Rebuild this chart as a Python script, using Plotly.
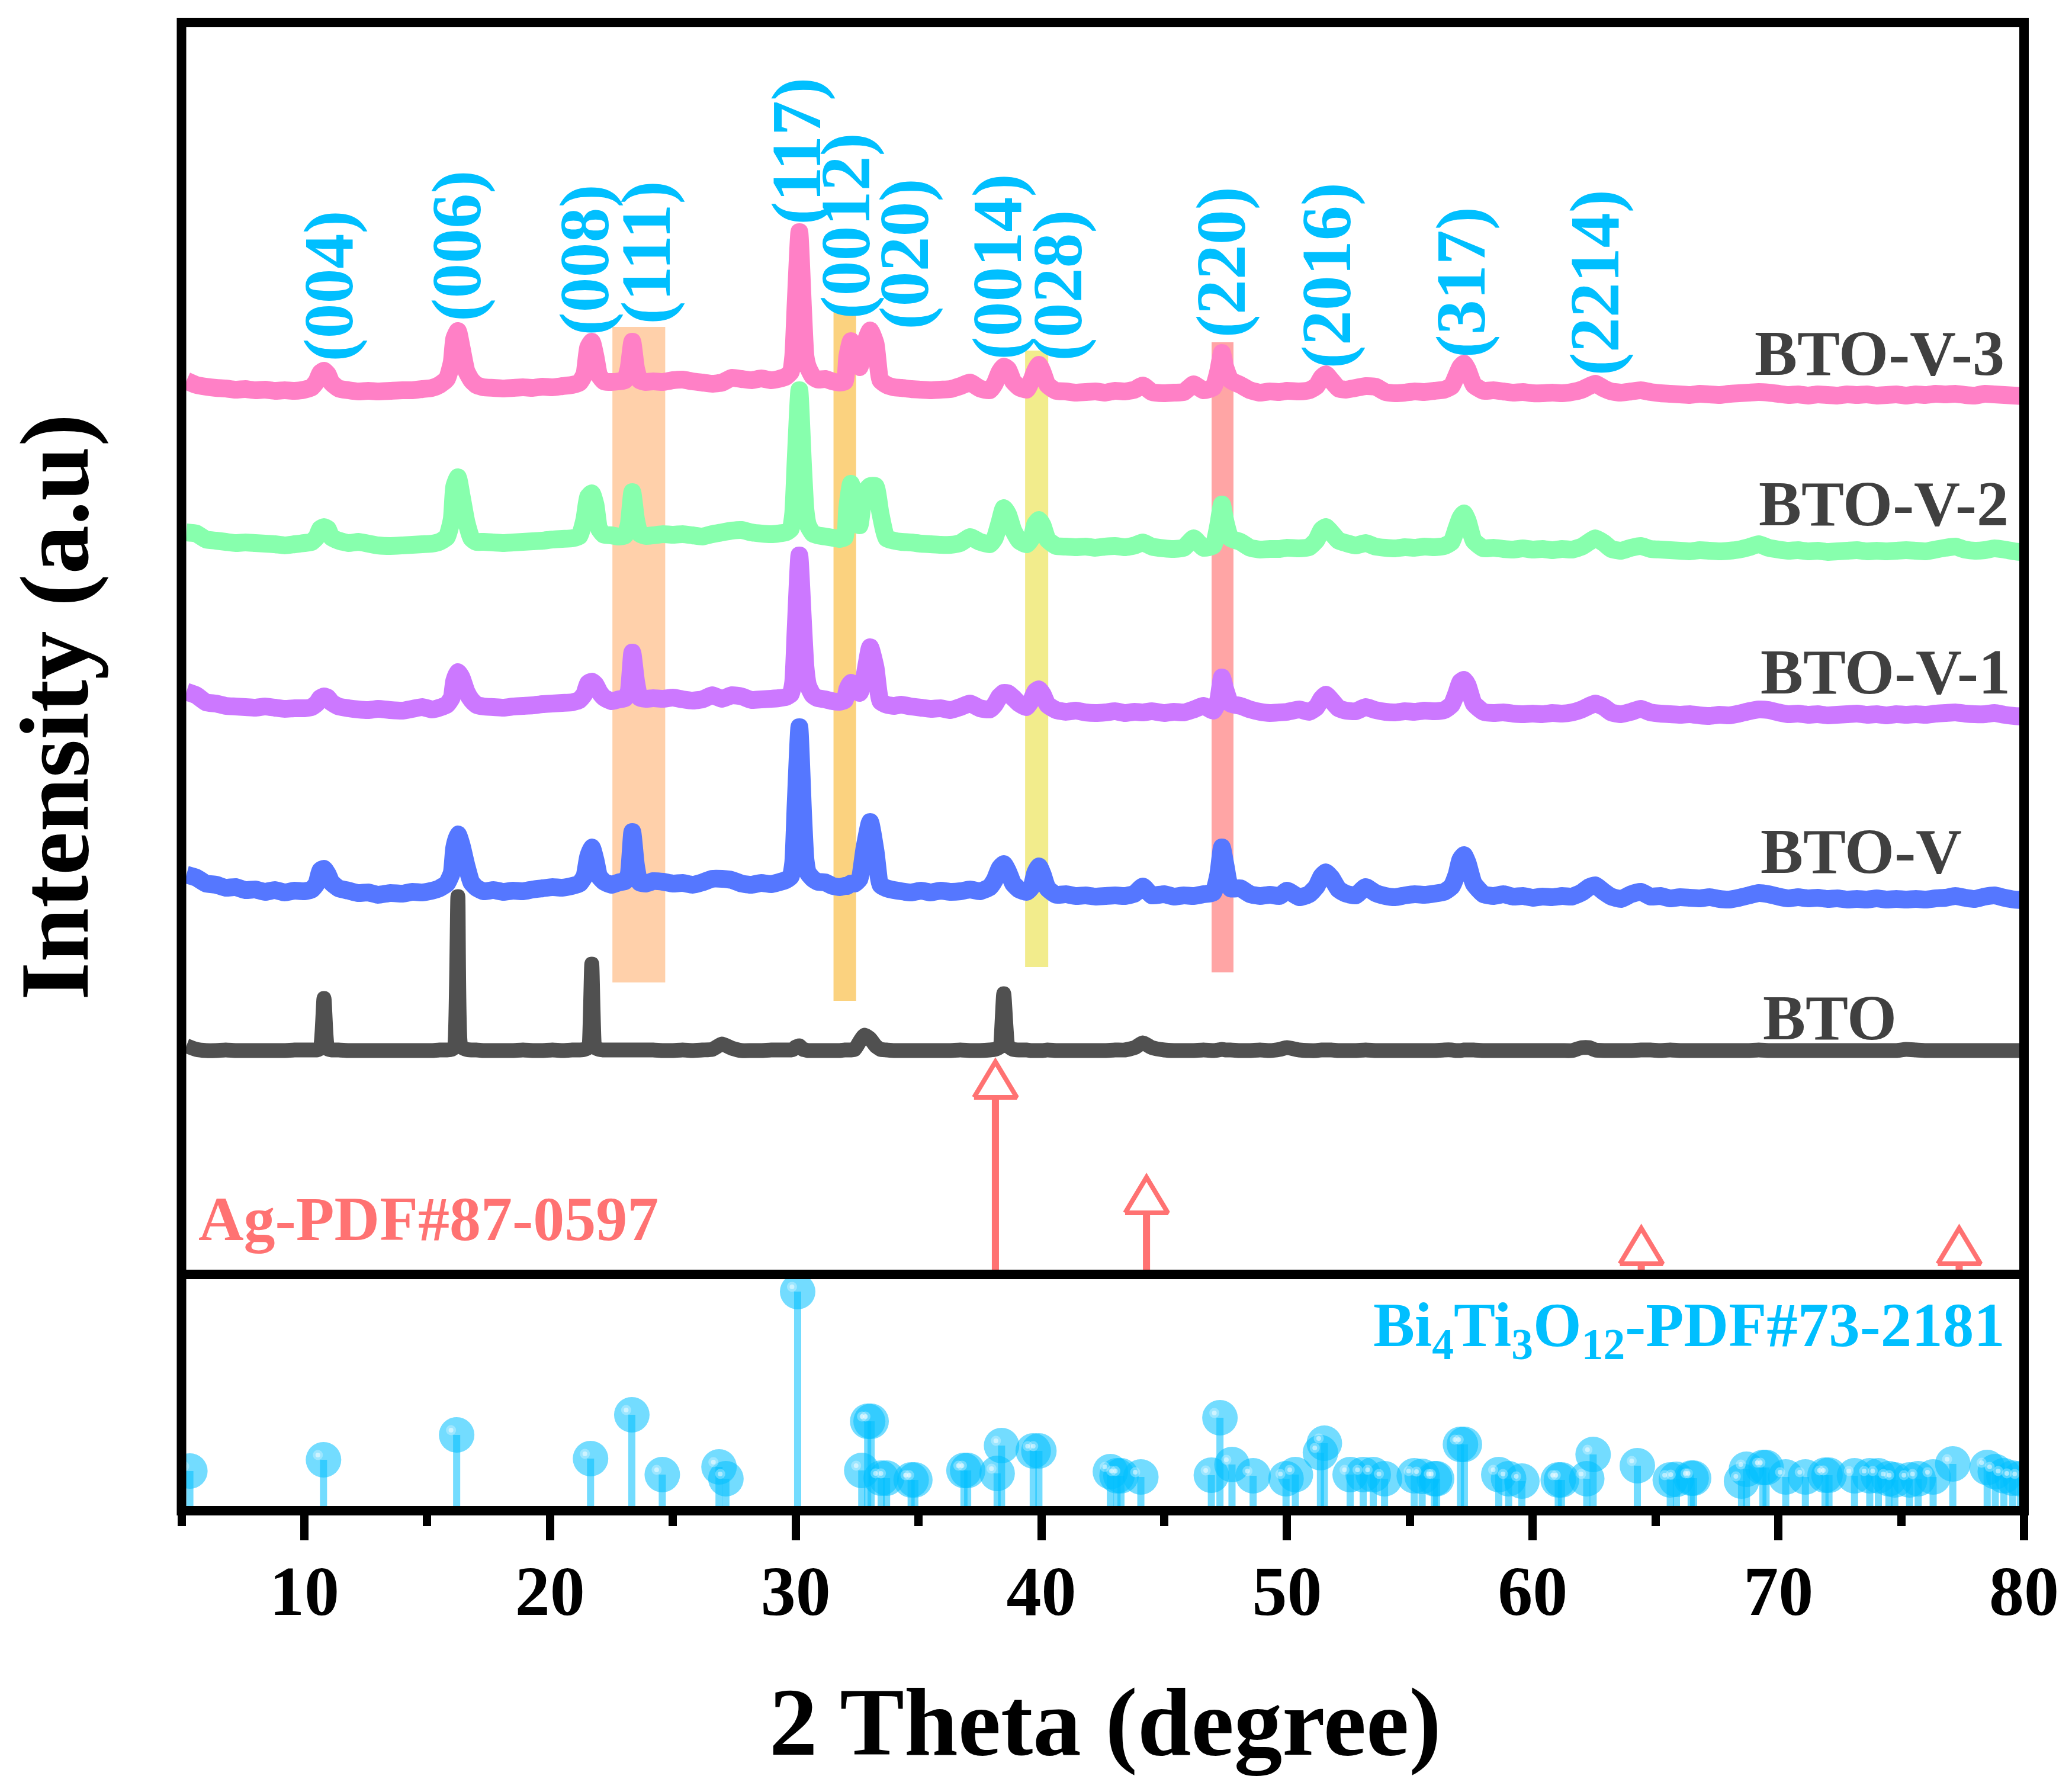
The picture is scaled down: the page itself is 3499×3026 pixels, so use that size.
import plotly.graph_objects as go

# 2 theta grid shared by all scans (denser around the reflections)
two_theta = [
    5.2, 5.6, 6.0, 6.4, 6.8, 7.2, 7.6, 8.0, 8.4, 8.8, 9.2, 9.6,
    10.0, 10.3, 10.5, 10.65, 10.8, 10.95, 11.1, 11.4, 11.8, 12.2, 12.6, 13.0,
    13.5, 14.0, 14.4, 14.8, 15.2, 15.5, 15.8, 16.0, 16.1, 16.25, 16.4, 16.6,
    16.8, 17.0, 17.3, 17.7, 18.1, 18.5, 18.9, 19.3, 19.7, 20.1, 20.5, 20.9,
    21.2, 21.4, 21.55, 21.7, 21.85, 22.0, 22.2, 22.5, 22.8, 23.05, 23.2, 23.35,
    23.5, 23.65, 23.9, 24.2, 24.6, 25.0, 25.4, 25.8, 26.2, 26.6, 27.0, 27.4,
    27.8, 28.2, 28.6, 29.0, 29.3, 29.6, 29.8, 29.9, 30.0, 30.15, 30.3, 30.4,
    30.5, 30.7, 30.9, 31.2, 31.5, 31.8, 32.0, 32.1, 32.25, 32.4, 32.6, 32.8,
    33.03, 33.25, 33.45, 33.7, 34.0, 34.3, 34.7, 35.1, 35.5, 35.9, 36.3, 36.7,
    37.1, 37.5, 37.9, 38.1, 38.3, 38.47, 38.65, 38.85, 39.1, 39.4, 39.6, 39.75,
    39.9, 40.05, 40.25, 40.6, 41.0, 41.4, 41.8, 42.2, 42.6, 43.0, 43.4, 43.8,
    44.13, 44.5, 45.0, 45.4, 45.8, 46.2, 46.6, 47.0, 47.2, 47.35, 47.5, 47.7,
    48.1, 48.5, 48.9, 49.3, 49.7, 50.0, 50.5, 50.9, 51.2, 51.4, 51.58, 51.8,
    52.1, 52.4, 52.8, 53.2, 53.6, 54.0, 54.4, 54.8, 55.2, 55.6, 56.0, 56.4,
    56.7, 56.9, 57.05, 57.2, 57.35, 57.6, 58.0, 58.4, 58.8, 59.2, 59.6, 60.0,
    60.4, 60.8, 61.2, 61.6, 62.0, 62.3, 62.55, 62.9, 63.2, 63.6, 64.0, 64.4,
    64.8, 65.2, 65.6, 66.0, 66.4, 66.8, 67.2, 67.6, 68.0, 68.4, 68.8, 69.2,
    69.6, 70.0, 70.4, 70.8, 71.2, 71.6, 72.0, 72.4, 72.8, 73.2, 73.6, 74.0,
    74.4, 74.8, 75.2, 75.6, 76.0, 76.4, 76.8, 77.2, 77.6, 78.0, 78.4, 78.8,
    79.2, 79.6, 80.0,
]

# Intensities above each scan's own baseline
bto_v3 = [
    29, 22, 19, 17, 16, 14, 15, 13, 14, 12, 13, 12,
    14, 18, 28, 42, 46, 40, 26, 16, 13, 11, 12, 11,
    12, 13, 13, 15, 17, 22, 32, 60, 100, 113, 85, 45,
    30, 22, 18, 17, 16, 17, 18, 17, 19, 18, 20, 22,
    26, 40, 85, 95, 70, 38, 28, 27, 28, 30, 50, 95,
    50, 30, 27, 28, 27, 30, 31, 28, 26, 24, 26, 34,
    32, 30, 33, 30, 32, 36, 44, 70, 160, 280, 150, 70,
    52, 36, 31, 32, 28, 26, 28, 70, 96, 70, 52, 90,
    114, 92, 30, 22, 18, 17, 15, 14, 13, 14, 15, 20,
    26, 16, 13, 24, 44, 53, 48, 28, 18, 14, 30, 46,
    56, 44, 22, 12, 11, 9, 10, 11, 9, 12, 11, 14,
    21, 10, 8, 9, 10, 23, 13, 18, 45, 76, 50, 30,
    22, 13, 9, 11, 10, 12, 11, 13, 20, 34, 40, 30,
    16, 14, 17, 20, 19, 10, 8, 9, 11, 10, 12, 14,
    20, 38, 52, 58, 48, 22, 12, 13, 11, 9, 10, 8,
    8, 9, 8, 10, 14, 20, 24, 16, 11, 9, 11, 13,
    10, 8, 7, 6, 5, 7, 6, 5, 7, 8, 9, 10,
    9, 7, 5, 6, 4, 6, 5, 4, 6, 5, 6, 4,
    5, 6, 4, 6, 5, 7, 6, 7, 5, 4, 7, 6,
    5, 4, 3,
]
bto_v2 = [
    38, 36, 26, 24, 22, 20, 21, 20, 19, 18, 16, 18,
    20, 22, 30, 44, 47, 44, 30, 24, 20, 22, 19, 16,
    15, 16, 17, 18, 19, 22, 30, 60, 115, 131, 100, 55,
    28, 22, 22, 21, 20, 21, 22, 23, 24, 26, 27, 28,
    32, 60, 98, 104, 85, 44, 34, 33, 31, 33, 50, 106,
    60, 36, 32, 33, 35, 34, 35, 33, 31, 35, 38, 41,
    42, 38, 36, 35, 36, 38, 44, 70, 160, 278, 150, 75,
    50, 36, 33, 31, 29, 27, 30, 80, 120, 95, 50, 105,
    116, 116, 70, 28, 24, 22, 21, 19, 18, 17, 17, 20,
    30, 22, 18, 28, 55, 79, 68, 42, 24, 18, 28, 52,
    59, 50, 26, 15, 14, 13, 14, 12, 14, 15, 13, 16,
    21, 14, 11, 10, 12, 28, 12, 16, 50, 85, 55, 28,
    22, 12, 9, 10, 10, 12, 11, 13, 25, 42, 47, 38,
    24, 20, 16, 20, 14, 12, 11, 13, 12, 14, 13, 15,
    22, 45, 62, 70, 58, 24, 11, 12, 10, 9, 11, 9,
    10, 8, 10, 9, 14, 22, 28, 20, 10, 7, 12, 15,
    10, 9, 8, 7, 6, 8, 7, 6, 7, 9, 13, 18,
    12, 9, 7, 8, 6, 7, 5, 6, 7, 8, 6, 7,
    6, 7, 8, 7, 6, 9, 12, 14, 9, 7, 8, 11,
    9, 6, 4,
]
bto_v1 = [
    44, 38, 26, 24, 20, 19, 18, 17, 19, 17, 15, 16,
    16, 18, 24, 33, 36, 34, 26, 19, 16, 14, 13, 15,
    13, 12, 15, 18, 14, 17, 22, 34, 62, 77, 68, 44,
    30, 22, 19, 18, 17, 19, 20, 21, 23, 24, 25, 26,
    30, 40, 58, 61, 56, 44, 34, 28, 31, 33, 44, 110,
    62, 34, 32, 33, 32, 34, 31, 29, 31, 38, 32, 38,
    36, 30, 31, 32, 33, 35, 40, 60, 150, 274, 160, 85,
    55, 38, 33, 31, 28, 27, 30, 48, 59, 50, 42, 70,
    119, 85, 28, 22, 20, 22, 19, 17, 15, 16, 13, 18,
    24, 16, 14, 22, 36, 42, 41, 34, 24, 18, 30, 44,
    48, 40, 22, 13, 10, 12, 9, 8, 9, 11, 8, 10,
    9, 11, 8, 10, 9, 14, 20, 12, 30, 68, 46, 24,
    20, 14, 10, 8, 9, 10, 14, 10, 18, 32, 39, 30,
    16, 12, 11, 18, 13, 10, 9, 11, 10, 12, 11, 13,
    22, 42, 60, 64, 55, 24, 10, 8, 9, 7, 6, 7,
    6, 8, 7, 9, 14, 20, 24, 18, 9, 6, 10, 15,
    9, 7, 6, 5, 6, 4, 3, 5, 4, 7, 11, 14,
    13, 9, 6, 7, 5, 6, 4, 5, 6, 7, 5, 6,
    4, 6, 5, 6, 5, 7, 8, 9, 7, 6, 6, 8,
    5, 3, 2,
]
bto_v = [
    45, 40, 30, 28, 23, 24, 19, 20, 16, 19, 15, 18,
    17, 20, 30, 52, 55, 46, 32, 22, 18, 14, 15, 11,
    14, 13, 16, 15, 18, 22, 30, 48, 90, 113, 95, 60,
    32, 23, 17, 19, 16, 18, 17, 20, 22, 24, 23, 26,
    30, 42, 75, 91, 70, 42, 33, 28, 32, 34, 45, 117,
    60, 32, 30, 34, 33, 30, 31, 28, 32, 38, 38, 36,
    30, 28, 31, 29, 32, 36, 42, 65, 165, 294, 150, 70,
    48, 38, 33, 32, 26, 24, 26, 26, 30, 30, 38, 90,
    134, 85, 28, 22, 19, 17, 15, 18, 15, 18, 16, 17,
    20, 17, 24, 36, 56, 63, 50, 30, 20, 16, 24, 48,
    59, 46, 22, 11, 12, 9, 10, 8, 9, 10, 9, 13,
    25, 10, 12, 8, 10, 9, 12, 15, 45, 91, 60, 22,
    22, 12, 9, 11, 9, 18, 7, 12, 25, 42, 49, 40,
    20, 13, 10, 24, 14, 9, 7, 10, 12, 11, 13, 16,
    25, 45, 70, 78, 65, 30, 12, 9, 12, 8, 9, 6,
    8, 7, 9, 8, 15, 24, 27, 16, 8, 4, 12, 16,
    8, 9, 5, 7, 6, 5, 7, 4, 3, 6, 10, 14,
    12, 8, 5, 7, 5, 6, 4, 5, 3, 4, 3, 5,
    3, 4, 3, 4, 3, 5, 6, 9, 6, 4, 8, 10,
    6, 3, 2,
]
bto = [
    8, 2, 0, 0, 1, 0, 0, 0, 0, 0, 0, 1,
    1, 1, 1, 4, 88, 3, 1, 1, 0, 0, 0, 0,
    0, 0, 0, 0, 0, 1, 1, 2, 6, 260, 6, 2,
    1, 1, 0, 0, 0, 0, 1, 0, 0, 1, 0, 1,
    1, 2, 5, 146, 5, 2, 1, 1, 1, 1, 1, 1,
    1, 1, 1, 1, 0, 0, 1, 0, 1, 2, 11, 4,
    0, 0, 0, 1, 1, 1, 1, 2, 6, 8, 2, 1,
    0, 0, 0, 0, 0, 0, 1, 1, 1, 2, 15, 26,
    20, 8, 2, 1, 0, 0, 0, 0, 0, 0, 0, 1,
    0, 0, 1, 2, 6, 96, 8, 2, 1, 1, 0, 0,
    0, 0, 1, 0, 0, 0, 0, 0, 0, 1, 1, 5,
    13, 5, 1, 0, 0, 0, 1, 0, 1, 2, 1, 1,
    0, 0, 1, 0, 2, 5, 1, 0, 0, 1, 1, 1,
    0, 0, 0, 1, 0, 0, 0, 0, 0, 0, 0, 1,
    1, 0, 0, 1, 1, 1, 0, 0, 0, 0, 0, 0,
    0, 0, 0, 0, 5, 5, 1, 0, 0, 0, 0, 1,
    1, 0, 1, 0, 0, 0, 0, 0, 0, 0, 0, 1,
    0, 0, 0, 0, 0, 0, 0, 0, 0, 0, 0, 0,
    0, 0, 2, 1, 0, 0, 0, 0, 0, 0, 0, 0,
    0, 0, 0,
]

scan_names = ["BTO-V-3", "BTO-V-2", "BTO-V-1", "BTO", "BTO-V"]
scan_values = [bto_v3, bto_v2, bto_v1, bto, bto_v]
scan_offsets = [1480, 1215, 940, 378, 630]
scan_colors = ["#FF80C6", "#87FFAD", "#CC78FF", "#505050", "#5577FF"]
scan_widths = [30, 30, 30, 25, 30]

# Name labels at the right of each scan
label_names = ["BTO-V-3", "BTO-V-2", "BTO-V-1", "BTO-V", "BTO"]
label_x = [68.98, 69.15, 69.22, 69.22, 69.33]
label_y = [1555, 1301, 1017, 714, 433]

# Miller indices
hkl_names = ["(004)", "(006)", "(008)", "(111)", "(117)", "(0012)", "(020)",
             "(0014)", "(028)", "(220)", "(2016)", "(317)", "(2214)"]
hkl_x = [11.01, 16.22, 21.42, 23.93, 30.05, 32.05, 34.44,
         38.22, 40.68, 47.35, 51.62, 57.09, 62.56]
hkl_y = [1669, 1737, 1713, 1726, 1897, 1771, 1723,
         1702, 1670, 1710, 1687, 1675, 1675]

# Highlighted reflections (2 theta from, to, intensity from, to, colour)
band_x0 = [22.54, 31.54, 39.34, 46.93]
band_x1 = [24.69, 32.46, 40.28, 47.82]
band_y0 = [493, 462, 519, 510]
band_y1 = [1600, 1625, 1560, 1574]
band_colors = ["#FFD0AA", "#FBD27F", "#F2EC8C", "#FFA5A5"]

# Ag reference card
ag_pos = [38.13, 44.28, 64.42, 77.36]
ag_int = [299, 104, 18, 18]

# Bi4Ti3O12 reference card
bit_pos = [
    5.34, 10.78, 16.2, 21.65, 23.33, 24.57, 26.88, 27.16, 30.08, 32.69, 32.93, 33.07,
    33.48, 33.7, 34.7, 34.85, 36.85, 37.0, 38.2, 38.38, 39.67, 39.9, 42.81, 43.08,
    43.24, 44.05, 46.92, 47.27, 47.76, 48.62, 49.96, 50.34, 51.36, 51.52, 52.57, 53.1,
    53.51, 53.97, 55.18, 55.5, 56.0, 56.09, 57.06, 57.22, 58.62, 59.02, 59.56, 61.04,
    61.17, 62.2, 62.46, 64.26, 65.6, 65.85, 66.45, 66.55, 68.5, 68.7, 69.37, 69.5,
    70.3, 71.1, 71.9, 72.06, 73.1, 73.72, 74.07, 74.5, 74.74, 75.34, 75.69, 76.3,
    77.1, 78.5, 78.83, 79.18, 79.53, 79.85,
]
bit_int = [
    67, 86, 128, 88, 162, 61, 74, 54, 370, 68, 151, 151,
    55, 55, 52, 52, 68, 68, 63, 110, 101, 101, 66, 59,
    59, 57, 60, 157, 78, 59, 54, 61, 98, 114, 61, 61,
    61, 54, 59, 58, 54, 54, 112, 112, 61, 54, 50, 52,
    52, 54, 95, 76, 52, 53, 55, 55, 50, 70, 73, 73,
    57, 57, 60, 60, 59, 59, 59, 54, 52, 52, 54, 57,
    79, 73, 66, 59, 55, 54,
]

x_ticks_major = 10
x_ticks_minor = 5
y_span_top = 2114
y_span_bottom = 399

assert all(len(v) == len(two_theta) for v in scan_values)
assert len(bit_pos) == len(bit_int)

# The page body keeps its 8 px margin, so the figure is that much smaller than the window
PAD = 8
W, H = 3499 - 2 * PAD, 3026 - 2 * PAD
FONT = "Liberation Serif"
BLUE = "#00BFFF"
RED = "#FF7272"
DARK = "#404040"


def px(x):
    return (x - PAD) / W


def py(y):
    return 1 - (y - PAD) / H


left, right = px(306.5), px(3418)
top, mid, bottom = py(38), py(2152), py(2551)

fig = go.Figure()

# Scans
for name, vals, off, col, lw in zip(scan_names, scan_values, scan_offsets, scan_colors, scan_widths):
    fig.add_trace(go.Scatter(
        x=two_theta, y=[v + off for v in vals],
        mode="lines", name=name,
        line=dict(color=col, width=lw, shape="spline", smoothing=0.5, simplify=False),
        xaxis="x2", yaxis="y2",
    ))

# Ag card: stems and open triangles
fig.add_trace(go.Bar(
    x=ag_pos, y=ag_int, width=0.29,
    marker=dict(color=RED, line=dict(width=0)),
    xaxis="x2", yaxis="y2",
))
tri_x, tri_y = [], []
for p, h in zip(ag_pos, ag_int):
    tri_x += [p - 0.87, p + 0.87, p, p - 0.87, None]
    tri_y += [h, h, h + 60, h, None]
fig.add_trace(go.Scatter(
    x=tri_x, y=tri_y, mode="lines",
    fill="toself", fillcolor="white",
    line=dict(color=RED, width=8),
    xaxis="x2", yaxis="y2",
))

# Bi4Ti3O12 card: stems, balls, highlights
fig.add_trace(go.Bar(
    x=bit_pos, y=bit_int, width=0.29,
    marker=dict(color="rgba(0,191,255,0.55)", line=dict(width=0)),
))
fig.add_trace(go.Scatter(
    x=bit_pos, y=bit_int, mode="markers",
    marker=dict(size=60, color="rgba(0,191,255,0.55)", line=dict(width=0)),
))
fig.add_trace(go.Scatter(
    x=[p - 0.23 for p in bit_pos], y=[v + 8 for v in bit_int], mode="markers",
    marker=dict(size=17, color="rgba(255,255,255,0.3)", line=dict(width=0)),
))
fig.add_trace(go.Scatter(
    x=[p - 0.23 for p in bit_pos], y=[v + 8 for v in bit_int], mode="markers",
    marker=dict(size=8, color="rgba(255,255,255,0.5)", line=dict(width=0)),
))

annotations = []
for t, x, y in zip(hkl_names, hkl_x, hkl_y):
    annotations.append(dict(
        text=t, x=x, y=y, xref="x2", yref="y2", textangle=-90,
        xanchor="center", yanchor="middle", showarrow=False,
        font=dict(family=FONT, size=118, color=BLUE, weight="bold"),
    ))
for t, x, y in zip(label_names, label_x, label_y):
    annotations.append(dict(
        text=t, x=x, y=y, xref="x2", yref="y2",
        xanchor="left", yanchor="middle", showarrow=False,
        font=dict(family=FONT, size=108, color=DARK, weight="bold"),
    ))
annotations.append(dict(
    text="Ag-PDF#87-0597", x=5.65, y=94, xref="x2", yref="y2",
    xanchor="left", yanchor="middle", showarrow=False,
    font=dict(family=FONT, size=106, color=RED, weight="bold"),
))
annotations.append(dict(
    text="Bi<sub>4</sub>Ti<sub>3</sub>O<sub>12</sub>-PDF#73-2181",
    x=79.27, y=306, xref="x", yref="y",
    xanchor="right", yanchor="middle", showarrow=False,
    font=dict(family=FONT, size=105, color=BLUE, weight="bold"),
))
annotations.append(dict(
    text="2 Theta (degree)", x=px(1866), y=py(2908), xref="paper", yref="paper",
    xanchor="center", yanchor="middle", showarrow=False,
    font=dict(family=FONT, size=163, color="black", weight="bold"),
))
annotations.append(dict(
    text="Intensity (a.u)", x=px(92), y=py(1194), xref="paper", yref="paper",
    textangle=-90, xanchor="center", yanchor="middle", showarrow=False,
    font=dict(family=FONT, size=165, color="black", weight="bold"),
))

shapes = []
for x0, x1, y0, y1, col in zip(band_x0, band_x1, band_y0, band_y1, band_colors):
    shapes.append(dict(type="rect", xref="x2", yref="y2", x0=x0, x1=x1, y0=y0, y1=y1,
                       fillcolor=col, line=dict(width=0), layer="below"))
# Frame and panel divider
shapes.append(dict(type="rect", xref="paper", yref="paper", x0=left, x1=right, y0=bottom, y1=top,
                   line=dict(color="black", width=16), layer="above"))
shapes.append(dict(type="line", xref="paper", yref="paper", x0=left, x1=right, y0=mid, y1=mid,
                   line=dict(color="black", width=16), layer="above"))

fig.update_layout(
    width=W, height=H,
    margin=dict(l=0, r=0, t=0, b=0),
    paper_bgcolor="white", plot_bgcolor="white",
    showlegend=False,
    xaxis=dict(
        domain=[left, right], anchor="y", range=[5, 80], automargin=False,
        tick0=0, dtick=x_ticks_major,
        ticks="outside", ticklen=49, tickwidth=14, tickcolor="black",
        minor=dict(tick0=0, dtick=x_ticks_minor, ticks="outside", ticklen=25, tickwidth=14, tickcolor="black"),
        tickfont=dict(family=FONT, size=118, color="black", weight="bold"),
        ticklabelstandoff=-16,
        showgrid=False, zeroline=False, showline=False,
    ),
    yaxis=dict(
        domain=[bottom, mid], anchor="x", range=[0, y_span_bottom], automargin=False,
        showticklabels=False, ticks="", showgrid=False, zeroline=False,
    ),
    xaxis2=dict(
        domain=[left, right], anchor="y2", range=[5, 80], matches="x", automargin=False,
        showticklabels=False, ticks="", showgrid=False, zeroline=False,
    ),
    yaxis2=dict(
        domain=[mid, top], anchor="x2", range=[0, y_span_top], automargin=False,
        showticklabels=False, ticks="", showgrid=False, zeroline=False,
    ),
    annotations=annotations,
    shapes=shapes,
)

fig.write_html("out.html")
